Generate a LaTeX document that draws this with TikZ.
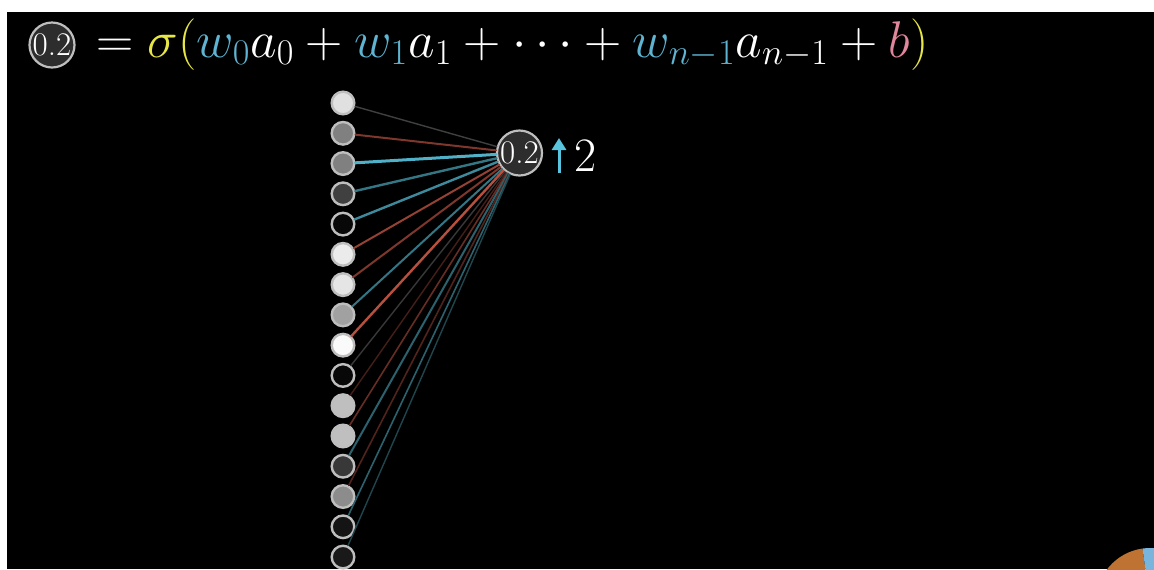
\RequirePackage{fix-cm}
\documentclass[tikz,border=0pt]{standalone}
\usepackage{amsmath}
\usetikzlibrary{arrows.meta}
\definecolor{tblue}{RGB}{95,180,210}
\definecolor{tyellow}{RGB}{230,230,70}
\definecolor{tpink}{RGB}{225,135,155}
\definecolor{rim}{RGB}{190,190,190}
\definecolor{outfill}{RGB}{45,45,45}
\definecolor{lnblue}{RGB}{88,196,221}
\definecolor{lnred}{RGB}{230,100,80}
\definecolor{pieorange}{RGB}{190,115,50}
\definecolor{pieblue}{RGB}{120,180,220}
\begin{document}
\begin{tikzpicture}[x=0.5pt,y=-0.5pt,
  neuron/.style={circle,draw=rim,line width=1.2pt,minimum size=11.3pt,inner sep=0pt},
  valnode/.style={circle,draw=rim,fill=outfill,line width=1.1pt,minimum size=22.5pt,inner sep=0pt,text=white,font=\fontsize{16.5}{17}\selectfont},
  wire/.style={line cap=round},
  txt/.style={text=white,inner sep=0pt},
]
\useasboundingbox (0,0) rectangle (1154,569);
\fill[white] (0,0) rectangle (1154,569);
\fill[black] (7,12) rectangle (1154,569);

% corner pie
\begin{scope}
  \clip (7,12) rectangle (1154,569);
  \coordinate (pc) at (1150,602);
  \fill[pieorange] (pc) -- ++(180:54) arc[start angle=180,end angle=262,radius=54] -- cycle;
  \fill[pieblue] (pc) -- ++(262:54) arc[start angle=262,end angle=360,radius=54] -- cycle;
\end{scope}

% equation
\node[valnode] (eqv) at (52,45) {0.2};
\node[txt,anchor=base west,font=\fontsize{25.8}{30}\selectfont] (eq) at (96,57)
  {$={\color{tyellow}\sigma(}{\color{tblue}w_0}a_0+{\color{tblue}w_1}a_1+\cdots+{\color{tblue}w_{n-1}}a_{n-1}+{\color{tpink}b}{\color{tyellow})}$};

% output neuron
\node[valnode] (out) at (519.5,153) {0.2};
\coordinate (arB) at (559,173);
\coordinate (arT) at (559,138);
\draw[lnblue,line width=1.5pt,-{Triangle[length=6pt,width=7pt]}] (arB) -- (arT);
\node[txt,anchor=base,font=\fontsize{24}{26}\selectfont] (two) at (586,171) {2};

% input neurons
\foreach \i/\f in {1/88,2/50,3/50,4/25,5/3,6/92,7/90,8/63,9/98,10/3,11/75,12/75,13/22,14/55,15/8,16/10}{
  \node[neuron,fill=white!\f!black] (i\i) at (343,{103+30.27*(\i-1)}) {};
}

% wires
\foreach \i/\c/\w in {1/white!25!black/0.7,2/lnred!55!black/1,3/lnblue!90!black/1.5,4/lnblue!60!black/1.2,
  5/lnblue!70!black/1.2,6/lnred!65!black/1,7/lnred!55!black/1,8/lnblue!60!black/1,9/lnred!80!black/1.2,
  10/white!22!black/0.7,11/lnred!30!black/0.7,12/lnred!45!black/0.8,13/lnblue!50!black/1,
  14/lnred!35!black/0.8,15/lnblue!50!black/0.8,16/lnblue!35!black/0.7}{
  \draw[wire,draw=\c,line width=\w pt] (i\i) -- (out);
}
\end{tikzpicture}
\end{document}
